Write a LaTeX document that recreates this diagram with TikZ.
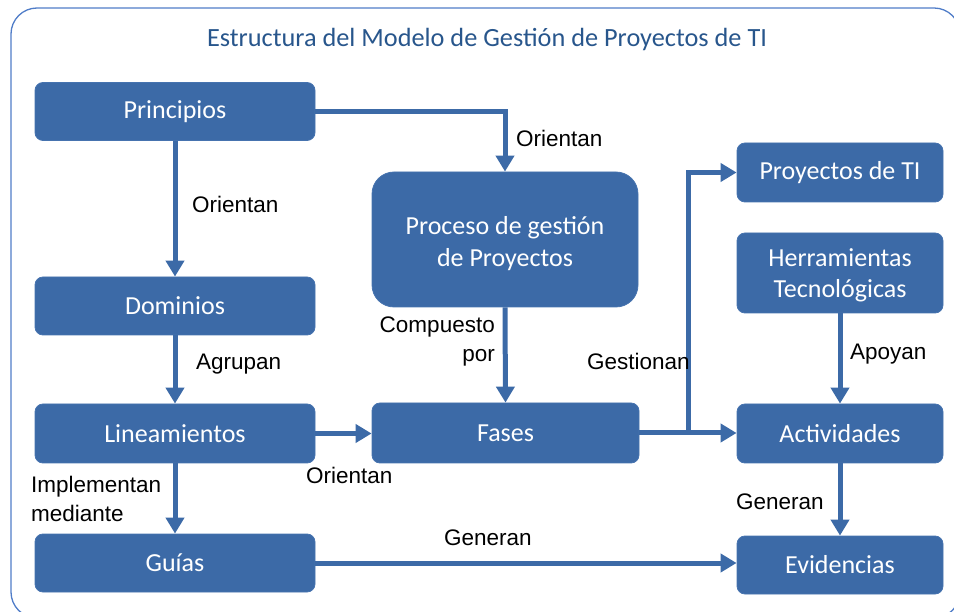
\documentclass[tikz,border=0pt]{standalone}
\usepackage{fontspec}
\setmainfont{Carlito}
\newfontfamily\labfont{Liberation Sans}
\usetikzlibrary{arrows.meta}
\definecolor{boxblue}{RGB}{60,106,167}
\definecolor{boxedge}{RGB}{70,115,175}
\definecolor{titleblue}{RGB}{40,86,140}
\definecolor{framecol}{RGB}{80,125,200}
\tikzset{
  box/.style={draw=boxedge, line width=0.8pt, fill=boxblue, rounded corners=8pt,
    text=white, font=\fontsize{26}{31}\selectfont, align=center, inner sep=0pt},
  arr/.style={draw=boxblue, line width=5pt, -{Triangle[width=18pt,length=16pt]}},
  lab/.style={font=\labfont\fontsize{22.5}{29}\selectfont, text=black, inner sep=0pt},
}
\begin{document}
\begin{tikzpicture}[x=1pt,y=-1pt]
\useasboundingbox (0,0) rectangle (954,612);
\begin{scope}
\clip (0,0) rectangle (954,612);
\draw[framecol, line width=1.3pt, rounded corners=26pt] (11,8) rectangle (960,618);
\end{scope}
\node[text=titleblue, font=\fontsize{26.3}{31}\selectfont, inner sep=0pt] (title) at (487,39) {Estructura del Modelo de Gestión de Proyectos de TI};

\node[box, minimum width=280pt, minimum height=58pt] (pri) at (175,111.5) {Principios};
\node[box, minimum width=280pt, minimum height=58pt] (dom) at (175,306) {Dominios};
\node[box, minimum width=280pt, minimum height=59pt] (lin) at (175,433.5) {Lineamientos};
\node[box, minimum width=280pt, minimum height=58pt] (gui) at (175,563) {Guías};
\node[box, rounded corners=22pt, minimum width=266pt, minimum height=135pt] (pro) at (505,239.5) {\parbox{250pt}{\centering\vspace*{8pt}Proceso de gestión\\[1pt] de Proyectos}};
\node[box, minimum width=267pt, minimum height=60pt] (fas) at (505.5,433) {Fases};
\node[box, minimum width=206pt, minimum height=59pt] (pti) at (840,172.5) {Proyectos de TI};
\node[box, minimum width=206pt, minimum height=80pt] (her) at (840,273) {\parbox{200pt}{\centering\vspace*{4pt}Herramientas\\[0pt] Tecnológicas}};
\node[box, minimum width=206pt, minimum height=59pt] (act) at (840,433.5) {Actividades};
\node[box, minimum width=206pt, minimum height=58pt] (evi) at (840,565) {Evidencias};

\draw[arr] (pri.east) -| (pro.north);
\draw[arr] (pri.south) -- (dom.north);
\draw[arr] (dom.south) -- (lin.north);
\draw[arr] (lin.south) -- (gui.north);
\draw[arr] (lin.east) -- (lin.east -| fas.west);
\draw[arr] (pro.south) -- (fas.north);
\draw[arr] (fas.east) -- (fas.east -| act.west);
\coordinate (br) at (688,433);
\draw[arr] (br) |- (pti.west);
\draw[arr] (her.south) -- (act.north);
\draw[arr] (act.south) -- (evi.north);
\draw[arr] (gui.east) -- (gui.east -| evi.west);

\node[lab, anchor=west] (l1) at (516,138) {Orientan};
\node[lab, anchor=west] (l2) at (192,204) {Orientan};
\node[lab, anchor=west] (l3) at (196,364) {Agrupan};
\node[lab, anchor=north west, align=left] (l4) at (31,476) {Implementan\\mediante};
\node[lab, anchor=north east, align=right] (l6) at (495,317) {Compuesto\\por};
\node[lab, anchor=west] (l5) at (306,475) {Orientan};
\node[lab, anchor=west] (l7) at (587,361) {Gestionan};
\node[lab, anchor=west] (l8) at (850,354) {Apoyan};
\node[lab, anchor=west] (l9) at (736,502) {Generan};
\node[lab, anchor=west] (l10) at (444,538) {Generan};
\end{tikzpicture}
\end{document}
